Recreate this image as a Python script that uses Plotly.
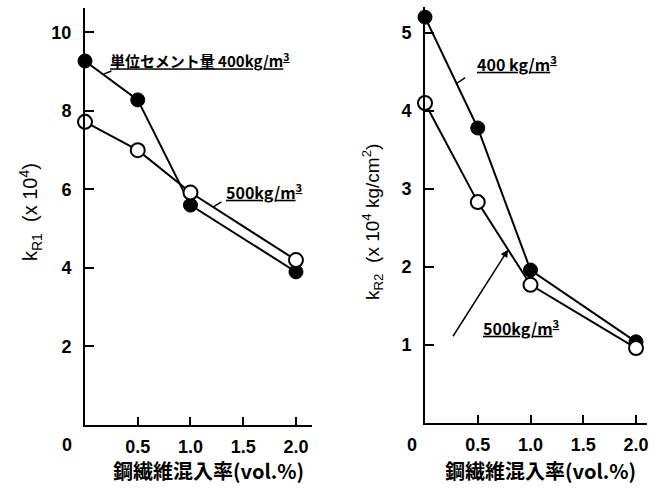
import plotly.graph_objects as go

W, H = 659, 489

# fiber content (vol.%)
x_vals = [0.0, 0.5, 1.0, 2.0]
x_tickvals = [0.5, 1.0, 1.5, 2.0]
x_ticktext = ["0.5", "1.0", "1.5", "2.0"]

# left panel: kR1 (x10^4)
k1_400 = [9.27, 8.28, 5.60, 3.90]
k1_500 = [7.72, 7.00, 5.92, 4.20]
y1_ticks = [2, 4, 6, 8, 10]

# right panel: kR2 (x10^4 kg/cm2)
k2_400 = [5.20, 3.78, 1.96, 1.04]
k2_500 = [4.10, 2.83, 1.77, 0.96]
y2_ticks = [1, 2, 3, 4, 5]

NUMFONT = dict(family="Liberation Sans, Arial, sans-serif", size=18, color="black", weight="bold")
JPFONT = dict(family="Noto Sans CJK JP, sans-serif", size=20, color="black", weight="bold")
LBLFONT = dict(family="Noto Sans CJK JP, sans-serif", size=15, color="black", weight="bold")
TITLEFONT = dict(family="Liberation Sans, Arial, sans-serif", size=20, color="black")

fig = go.Figure()

def add_pair(xa, ya, y400, y500):
    fig.add_trace(go.Scatter(x=x_vals, y=y400, xaxis=xa, yaxis=ya, mode="lines+markers",
                             line=dict(color="black", width=2),
                             marker=dict(size=14, color="black", line=dict(color="black", width=1)),
                             cliponaxis=False, showlegend=False))
    fig.add_trace(go.Scatter(x=x_vals, y=y500, xaxis=xa, yaxis=ya, mode="lines+markers",
                             line=dict(color="black", width=2),
                             marker=dict(size=14, color="white", line=dict(color="black", width=2)),
                             cliponaxis=False, showlegend=False))

add_pair("x", "y", k1_400, k1_500)
add_pair("x2", "y2", k2_400, k2_500)

xax = dict(tickvals=x_tickvals, ticktext=x_ticktext, ticks="inside", ticklen=8, tickwidth=2,
           tickcolor="black", showline=True, linecolor="black", linewidth=2, showgrid=False,
           zeroline=False, tickfont=NUMFONT, ticklabelstandoff=4, automargin=False)
yax = dict(ticks="inside", ticklen=9, tickwidth=2, tickcolor="black", showline=True,
           linecolor="black", linewidth=2, showgrid=False, zeroline=False, tickfont=NUMFONT,
           ticklabelstandoff=8, automargin=False)

fig.update_layout(
    template="none",
    width=W, height=H, margin=dict(l=0, r=0, t=0, b=0, autoexpand=False),
    paper_bgcolor="white", plot_bgcolor="white",
    xaxis=dict(xax, domain=[85 / W, 312 / W], range=[0, 2.152]),
    yaxis=dict(yax, domain=[64 / H, 481 / H], range=[0, 10.62], tickvals=y1_ticks),
    xaxis2=dict(xax, domain=[425 / W, 647 / W], range=[0, 2.104], anchor="y2"),
    yaxis2=dict(yax, domain=[66 / H, 482 / H], range=[0, 5.33], tickvals=y2_ticks, anchor="x2"),
)

def txt(px, py, text, font, angle=0):
    return dict(xref="paper", yref="paper", x=px / W, y=1 - py / H, text=text, showarrow=False,
                font=font, textangle=angle, xanchor="center", yanchor="middle")

ann = []
# corner zeros
ann.append(txt(67, 445, "0", NUMFONT))
ann.append(txt(412, 445, "0", NUMFONT))
# x titles
ann.append(txt(208, 470, "鋼繊維混入率(vol.%)", JPFONT))
ann.append(txt(540, 470, "鋼繊維混入率(vol.%)", JPFONT))
# y titles
ann.append(txt(30, 212, "k<sub>R1</sub>  (x 10<sup>4</sup>)", TITLEFONT, -90))
ann.append(txt(372, 222, "k<sub>R2</sub>  (x 10<sup>4</sup> kg/cm<sup>2</sup>)", dict(TITLEFONT, size=19), -90))
# series labels
ann.append(txt(200, 60, "<u>単位セメント量 400kg/m<sup>3</sup></u>", LBLFONT))
ann.append(txt(264, 191, "<u>500kg/m<sup>3</sup></u>", dict(LBLFONT, size=16)))
ann.append(txt(517, 63, "<u>400 kg/m<sup>3</sup></u>", dict(LBLFONT, size=16)))
ann.append(txt(521, 327, "<u>500kg/m<sup>3</sup></u>", dict(LBLFONT, size=16)))
# leaders
def leader(xr, yr, x, y, ax, ay, head=0):
    return dict(xref=xr, yref=yr, x=x, y=y, ax=ax, ay=ay, text="", showarrow=True,
                arrowhead=head, arrowwidth=1.5, arrowcolor="black")
ann.append(leader("x", "y", 0.17, 8.93, 10, -4))
ann.append(leader("x", "y", 1.213, 5.55, 10, -6))
ann.append(leader("x2", "y2", 0.30, 4.35, 10, -7))
ann.append(leader("x2", "y2", 0.787, 2.22, -56, 88, head=2))
fig.update_layout(annotations=ann)

fig.write_html("out.html", config={"displayModeBar": False},
               post_script="document.body.style.margin='0';document.body.style.padding='0';"
                           "document.body.style.overflow='hidden';")
